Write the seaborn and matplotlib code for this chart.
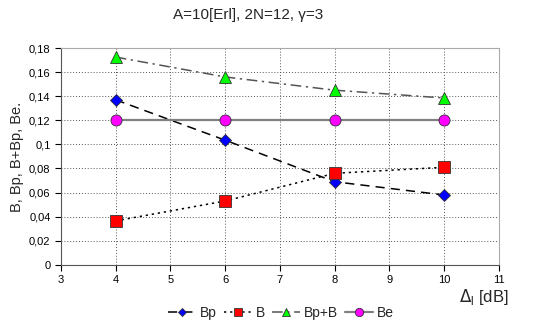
import matplotlib
matplotlib.use("Agg")
import matplotlib.pyplot as plt
from matplotlib.ticker import FuncFormatter, MultipleLocator
import seaborn as sns
import pandas as pd

sns.set_style("white")
plt.rcParams['font.family'] = ['Liberation Sans', 'DejaVu Sans']

delta = [4, 6, 8, 10]
bp = [0.137, 0.1035, 0.069, 0.058]
b = [0.0365, 0.053, 0.076, 0.081]
bp_b = [0.1725, 0.156, 0.145, 0.1385]
be = [0.12, 0.12, 0.12, 0.12]

series = ['Bp', 'B', 'Bp+B', 'Be']
values = [bp, b, bp_b, be]
df = pd.DataFrame({'x': delta * 4,
                   'y': sum(values, []),
                   's': [s for s in series for _ in delta]})

styles = {
    'Bp': dict(ls=(0, (6, 4)), marker='D', mfc='#0000ff', ms=6, lc='black'),
    'B': dict(ls=(0, (1.5, 2.5)), marker='s', mfc='#ff0000', ms=8, lc='black'),
    'Bp+B': dict(ls=(0, (7, 3, 1.5, 3)), marker='^', mfc='#00ff00', ms=8.5, lc='#555555'),
    'Be': dict(ls='-', marker='o', mfc='#ff00ff', ms=8, lc='#808080'),
}

fig = plt.figure(figsize=(5.44, 3.29), dpi=100)
ax = fig.add_axes([0.112, 0.195, 0.805, 0.659])

for s in series:
    st = styles[s]
    sns.lineplot(data=df[df['s'] == s], x='x', y='y', ax=ax, color=st['lc'],
                 linestyle=st['ls'], linewidth=1.1 if s != 'Be' else 1.6,
                 marker=st['marker'], markersize=st['ms'], markerfacecolor=st['mfc'],
                 markeredgecolor='#333333', markeredgewidth=0.6, label=s)

ax.set_xlim(3, 11)
ax.set_ylim(0, 0.18)
ax.xaxis.set_major_locator(MultipleLocator(1))
ax.yaxis.set_major_locator(MultipleLocator(0.02))
ax.yaxis.set_major_formatter(FuncFormatter(lambda v, p: ('%g' % round(v, 2)).replace('.', ',')))
ax.grid(True, color='#555555', linestyle=(0, (1, 2)), linewidth=0.7)
ax.tick_params(axis='both', labelsize=8, direction='out', length=4, width=0.8, left=True, bottom=True, colors='black')
for sp in ['top', 'right']:
    ax.spines[sp].set_color('#aaaaaa')
for sp in ['left', 'bottom']:
    ax.spines[sp].set_color('#555555')
ax.set_xlabel('')
ax.set_ylabel('B, Bp, B+Bp, Be.', fontsize=10.5)
ax.yaxis.set_label_coords(-0.085, 0.5)

fig.text(0.457, 0.955, 'A=10[Erl], 2N=12, \u03b3=3', ha='center', va='center', fontsize=11)
fig.text(0.935, 0.097, r'$\Delta_\mathregular{l}$ [dB]', ha='right', va='center', fontsize=12)

ax.legend(loc='center', bbox_to_anchor=(0.503, -0.222), ncol=4, frameon=False,
          fontsize=10, handlelength=2.0, columnspacing=0.5, handletextpad=0.3,
          markerscale=0.75)

fig.savefig('out.png', dpi=100)
